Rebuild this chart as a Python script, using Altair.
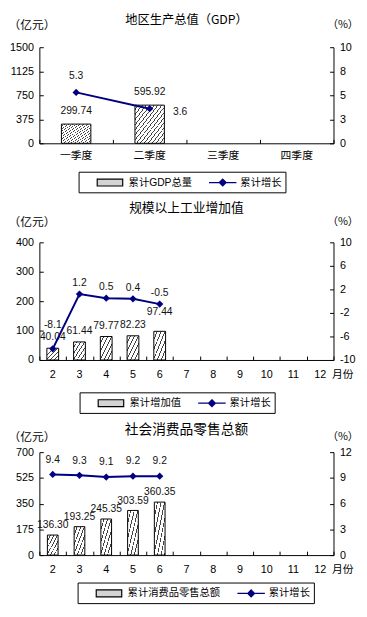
import json
import altair as alt
import pandas as pd

NAVY = "#000080"
TXT = "#111111"
NUM = "Liberation Sans, Arial, sans-serif"
CJK = "Noto Sans CJK SC, sans-serif"
MIX = "Liberation Sans, Noto Sans CJK SC, sans-serif"
W = 300
LINE_NAME = "累计增长"
MINUS_FIX = "replace({}, '\u2212', '-')"

# ---------------- data ----------------
gdp_cats = ["一季度", "二季度", "三季度", "四季度"]
gdp_done = ["一季度", "二季度"]
gdp_total = [299.74, 595.92]
gdp_growth = [5.3, 3.6]
gdp_left_ticks = [0, 375, 750, 1125, 1500]
gdp_right_ticks = [0, 2.5, 5, 7.5, 10]

month_cats = ["2", "3", "4", "5", "6", "7", "8", "9", "10", "11", "12"]
ind_months = ["2", "3", "4", "5", "6"]
ind_value = [40.04, 61.44, 79.77, 82.23, 97.44]
ind_growth = [-8.1, 1.2, 0.5, 0.4, -0.5]
ind_left_ticks = [0, 100, 200, 300, 400]
ind_right_ticks = [-10, -6, -2, 2, 6, 10]

retail_months = ["2", "3", "4", "5", "6"]
retail_value = [136.30, 193.25, 245.35, 303.59, 360.35]
retail_growth = [9.4, 9.3, 9.1, 9.2, 9.2]
retail_left_ticks = [0, 175, 350, 525, 700]
retail_right_ticks = [0, 3, 6, 9, 12]

# legend symbols (unit = 6 px at symbolSize 144)
RECT_PATH = "M1.333,-0.583H5.667V0.583H1.333Z"
LINE_PATH = "M1.333,0H6M3.667,-0.583L4.25,0L3.667,0.583L3.083,0Z"


def hatch(n, dark="#444444", light="#ffffff", frac=0.25):
    stops = []
    for k in range(n):
        a = k / n
        b = (k + 1 - frac) / n
        c = (k + 1) / n
        stops += [{"offset": a, "color": light}, {"offset": b, "color": light},
                  {"offset": b, "color": dark}, {"offset": c, "color": dark}]
    return {"gradient": "linear", "x1": 0, "y1": 0, "x2": 1, "y2": 1, "stops": stops}


def not_in(cats):
    return f"indexof({json.dumps(cats, ensure_ascii=False)}, datum.cat) < 0"


def is_in(cat):
    return f"datum.cat === '{cat}'"


def tick_axis(orient, offset, values=None, band=False):
    kw = dict(orient=orient, offset=offset, labels=False, domain=False, title=None,
              grid=False, tickSize=4, tickColor="black", tickWidth=1)
    if values is not None:
        kw["values"] = values
    if band:
        kw["tickBand"] = "extent"
    return alt.Axis(**kw)


def panel(cats, done, bar_vals, line_vals, bar_name, title, title_size, title_offset,
          left_ticks, right_ticks, right_fmt, height, stripes, bar_w, month_title,
          xlab_pad, ytitle_y, legend_xy, bar_dy, line_dy, bar_special, line_special):
    bars_df = pd.DataFrame({"cat": done, "value": bar_vals, "name": bar_name})
    line_df = pd.DataFrame({"cat": done, "growth": line_vals, "name": LINE_NAME})

    x_scale = alt.Scale(type="band", domain=cats, paddingInner=0, paddingOuter=0)
    x_kw = dict(labelAngle=0, labelFont=MIX, labelFontSize=11, labelColor="black",
                labelPadding=xlab_pad, ticks=False, tickSize=0,
                domainColor="black", grid=False)
    if month_title:
        x_kw.update(title="月份", titleX=W - 2, titleY=xlab_pad, titleAlign="left",
                    titleBaseline="top", titleFont=CJK, titleFontSize=11,
                    titleFontWeight="normal", titleColor="black")
    else:
        x_kw["title"] = None
    x = alt.X("cat:N", sort=cats, scale=x_scale, axis=alt.Axis(**x_kw))

    l_scale = alt.Scale(domain=[left_ticks[0], left_ticks[-1]], nice=False, zero=False)
    r_scale = alt.Scale(domain=[right_ticks[0], right_ticks[-1]], nice=False, zero=False)

    yl_axis = alt.Axis(values=left_ticks, format="d", orient="left", title="（亿元）",
                       titleAngle=0, titleX=-32, titleY=ytitle_y, titleAlign="left",
                       titleBaseline="middle", titleFont=CJK, titleFontSize=12,
                       titleFontWeight="normal", titleColor="black", labelFont=NUM,
                       labelFontSize=11, labelColor="black", labelPadding=6, ticks=False,
                       tickSize=0, domainColor="black", grid=False)
    yl = alt.Y("value:Q", scale=l_scale, axis=yl_axis)

    yr_axis = alt.Axis(values=right_ticks, format=right_fmt, orient="right", title="（%）",
                       labelExpr=MINUS_FIX.format("datum.label"),
                       titleAngle=0, titleX=-7, titleY=ytitle_y, titleAlign="left",
                       titleBaseline="middle", titleFont=CJK, titleFontSize=11,
                       titleFontWeight="normal", titleColor="black", labelFont=NUM,
                       labelFontSize=11, labelColor="black", labelPadding=6, ticks=False,
                       tickSize=0, domainColor="black", grid=False)
    yr = alt.Y("growth:Q", scale=r_scale, axis=yr_axis)

    bars = alt.Chart(bars_df).mark_bar(fill=hatch(stripes), stroke="black", strokeWidth=1,
                                       width=alt.RelativeBandSize(bar_w)).encode(x=x, y=yl)
    special_bar_cats = [c for c, _, _ in bar_special]
    bar_text = alt.Chart(bars_df).mark_text(font=NUM, fontSize=10.5, color=TXT,
                                            dy=bar_dy).encode(
        x=x, y=yl, text=alt.Text("value:Q", format=".2f")).transform_filter(
        not_in(special_bar_cats))
    left_layers = [bars, bar_text]
    for c, dx, dy in bar_special:
        left_layers.append(alt.Chart(bars_df).mark_text(
            font=NUM, fontSize=10.5, color=TXT, dx=dx, dy=dy).encode(
            x=x, y=yl, text=alt.Text("value:Q", format=".2f")).transform_filter(is_in(c)))

    line = alt.Chart(line_df).mark_line(color=NAVY, strokeWidth=2).encode(x=x, y=yr)
    pts = alt.Chart(line_df).mark_point(shape="diamond", filled=True, color=NAVY, size=55,
                                        opacity=1).encode(x=x, y=yr)
    nbsp = "\u00a0" * 9
    legend = alt.Legend(
        orient="none", legendX=legend_xy[0], legendY=legend_xy[1], direction="horizontal",
        title=None, strokeColor="black", fillColor="white", padding=4, labelFont=MIX,
        labelFontSize=10.5, labelColor="black", labelOffset=33, columnPadding=2,
        symbolSize=144, symbolOpacity=1, symbolStrokeWidth=1.2,
        labelExpr=f"datum.label + (datum.value === '{LINE_NAME}' ? '{nbsp}' : '')")
    dom = [bar_name, LINE_NAME]
    carrier = alt.Chart(line_df).mark_point(filled=True).encode(
        x=x, y=yr,
        shape=alt.Shape("name:N", scale=alt.Scale(domain=dom, range=[RECT_PATH, LINE_PATH]),
                        legend=legend),
        fill=alt.Fill("name:N", scale=alt.Scale(domain=dom, range=["#d4d4d4", NAVY]),
                      legend=legend),
        stroke=alt.Stroke("name:N", scale=alt.Scale(domain=dom, range=["#000000", NAVY]),
                          legend=legend),
    ).transform_filter("false")

    def line_label(chart):
        return chart.transform_calculate(
            lbl=MINUS_FIX.format("format(datum.growth, '.1f')")).encode(
            x=x, y=yr, text="lbl:N")

    special_line_cats = [c for c, _, _ in line_special]
    line_text = line_label(alt.Chart(line_df).mark_text(
        font=NUM, fontSize=10.5, color=TXT, dy=line_dy)).transform_filter(
        not_in(special_line_cats))
    right_layers = [line, pts, carrier, line_text]
    for c, dx, dy in line_special:
        right_layers.append(line_label(alt.Chart(line_df).mark_text(
            font=NUM, fontSize=10.5, color=TXT, dx=dx, dy=dy)).transform_filter(is_in(c)))

    main = alt.layer(alt.layer(*left_layers), alt.layer(*right_layers)).resolve_scale(
        y="independent")

    # inward-pointing tick marks, drawn as extra tick-only axes on the same scales
    x_ticks = alt.Chart(bars_df).mark_point().encode(
        x=alt.X("cat:N", sort=cats, scale=x_scale,
                axis=tick_axis("top", -height, band=True))).transform_filter("false")
    yl_ticks = alt.Chart(bars_df).mark_point().encode(
        y=alt.Y("value:Q", scale=l_scale,
                axis=tick_axis("right", -W, values=left_ticks))).transform_filter("false")
    yr_ticks = alt.Chart(line_df).mark_point().encode(
        y=alt.Y("growth:Q", scale=r_scale,
                axis=tick_axis("left", -W, values=right_ticks))).transform_filter("false")

    return alt.layer(main, x_ticks, yl_ticks, yr_ticks).resolve_scale(
        x="independent", y="independent").properties(
        width=W, height=height,
        title=alt.TitleParams(text=title, font=CJK, fontSize=title_size, fontWeight="normal",
                              color="black", anchor="middle", offset=title_offset))


p1 = panel(gdp_cats, gdp_done, gdp_total, gdp_growth, "累计GDP总量", "地区生产总值（GDP）",
           12.5, -8, gdp_left_ticks, gdp_right_ticks, ".0f", 98, 15, 0.4, False,
           7, -23, (40, 127), -13, -17, [], [("二季度", 31, 3)])
p2 = panel(month_cats, ind_months, ind_value, ind_growth, "累计增加值", "规模以上工业增加值",
           13, 1, ind_left_ticks, ind_right_ticks, "d", 120, 6, 0.44, True,
           9, -21, (41, 153), -11, -11, [("6", 0, -20)], [("2", 0, -24)])
p3 = panel(month_cats, retail_months, retail_value, retail_growth, "累计消费品零售总额",
           "社会消费品零售总额", 14, -6, retail_left_ticks, retail_right_ticks, "d", 105, 6,
           0.4, True, 9, -16, (39, 133), -10, -15, [], [])

chart = alt.vconcat(p1, p2, p3, spacing=9).resolve_scale(
    shape="independent", fill="independent", stroke="independent").resolve_legend(
    shape="independent", fill="independent", stroke="independent").properties(
    padding=0, background="white").configure_view(stroke=None)

chart.save("out.html", embed_options={"renderer": "svg", "actions": False})
